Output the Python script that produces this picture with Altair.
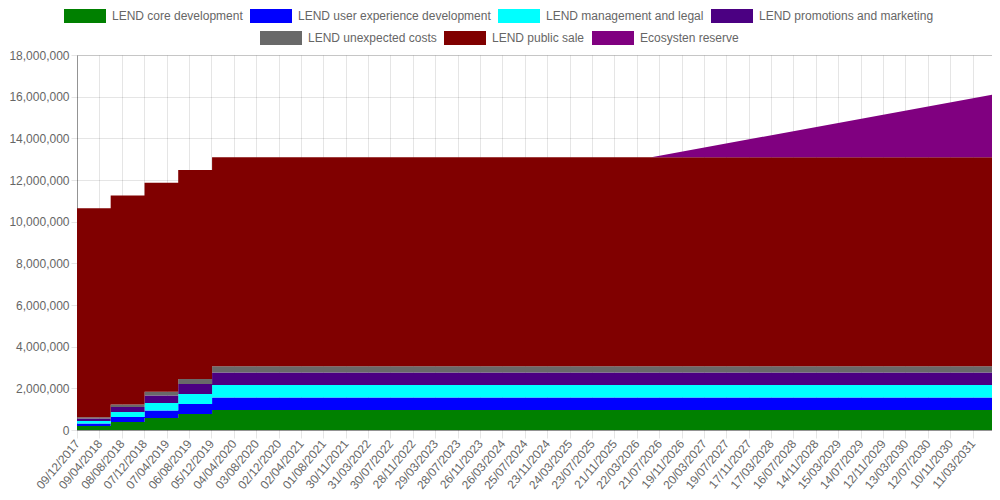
import altair as alt
import pandas as pd

# ---- data ----
dates = ["2017-12-09", "2018-06-09", "2018-12-09", "2019-06-09",
         "2019-12-09", "2026-06-09", "2031-06-24"]

series_names = [
    "LEND core development",
    "LEND user experience development",
    "LEND management and legal",
    "LEND promotions and marketing",
    "LEND unexpected costs",
    "LEND public sale",
    "Ecosysten reserve",
]
series_colors = ["#008000", "#0000ff", "#00ffff", "#4b0082",
                 "#696969", "#800000", "#800080"]

core = [192000, 384000, 576000, 768000, 960000, 960000, 960000]
ux = [120000, 240000, 360000, 480000, 600000, 600000, 600000]
mgmt = [120000, 240000, 360000, 480000, 600000, 600000, 600000]
promo = [120000, 240000, 360000, 480000, 600000, 600000, 600000]
unexpected = [60000, 120000, 180000, 240000, 300000, 300000, 300000]
public_sale = [10030000, 10030000, 10030000, 10030000, 10030000, 10030000, 10030000]
eco = [0, 0, 0, 0, 0, 0, 3000000]

tick_labels = ["09/12/2017", "09/04/2018", "08/08/2018", "07/12/2018", "07/04/2019",
               "06/08/2019", "05/12/2019", "04/04/2020", "03/08/2020", "02/12/2020",
               "02/04/2021", "01/08/2021", "30/11/2021", "31/03/2022", "30/07/2022",
               "28/11/2022", "29/03/2023", "28/07/2023", "26/11/2023", "26/03/2024",
               "25/07/2024", "23/11/2024", "24/03/2025", "23/07/2025", "21/11/2025",
               "22/03/2026", "21/07/2026", "19/11/2026", "20/03/2027", "19/07/2027",
               "17/11/2027", "17/03/2028", "16/07/2028", "14/11/2028", "15/03/2029",
               "14/07/2029", "12/11/2029", "13/03/2030", "12/07/2030", "10/11/2030",
               "11/03/2031"]

y_ticks = [0, 2000000, 4000000, 6000000, 8000000, 10000000,
           12000000, 14000000, 16000000, 18000000]


def ms(ts):
    return int(pd.Timestamp(ts).timestamp() * 1000)


date_ms = [ms(d) for d in dates]
tick_ms = [ms(pd.to_datetime(t, format="%d/%m/%Y")) for t in tick_labels]

values = [core, ux, mgmt, promo, unexpected, public_sale, eco]
rows = []
for i, t in enumerate(date_ms):
    cum = 0
    for s, vals in zip(series_names, values):
        rows.append({"date": t, "series": s, "bottom": cum, "top": cum + vals[i], "idx": i})
        cum += vals[i]
df = pd.DataFrame(rows)

FONT = "Liberation Sans"
GRID = "rgba(0,0,0,0.1)"
ZERO = "rgba(0,0,0,0.25)"
box = "M-1,-0.3333L1,-0.3333L1,0.3333L-1,0.3333Z"

x_enc = alt.X(
    "date:T",
    scale=alt.Scale(type="utc", domain=[date_ms[0], date_ms[-1]], nice=False),
    axis=alt.Axis(values=tick_ms, format="%d/%m/%Y", labelAngle=-50,
                  labelAlign="right", labelBaseline="middle", labelOverlap=False,
                  labelFont=FONT, labelFontSize=12, labelColor="#666",
                  tickSize=8, tickColor=GRID, gridColor=GRID, domainColor=ZERO,
                  labelPadding=3, title=None, labelFlush=False),
)
y_enc = alt.Y(
    "top:Q",
    scale=alt.Scale(domain=[0, 18000000], nice=False, zero=True),
    axis=alt.Axis(values=y_ticks, format=",d", labelFont=FONT, labelFontSize=12,
                  labelColor="#666", tickSize=6, tickColor=GRID, gridColor=GRID,
                  domainColor=ZERO, labelPadding=2, title=None),
)

legend_common = dict(
    orient="none", direction="horizontal", title=None, symbolType=box,
    symbolSize=1764, symbolStrokeWidth=0, labelFont=FONT, labelFontSize=12,
    labelColor="#666", labelOffset=6, columnPadding=7, labelLimit=0, padding=0,
    symbolOpacity=1,
)

first4 = series_names[:4]
last3 = series_names[4:]

layer_a = alt.Chart(df[df["series"].isin(first4)]).mark_area(
    interpolate="step-after", opacity=1
).encode(
    x=x_enc, y=y_enc, y2="bottom:Q",
    color=alt.Color("series:N",
                    scale=alt.Scale(domain=first4, range=series_colors[:4]),
                    legend=alt.Legend(legendX=-13, legendY=-60, **legend_common)),
)

legend_b = alt.Legend(legendX=183, legendY=-38, **legend_common)

layer_b = alt.Chart(df[df["series"].isin(last3[:2])]).mark_area(
    interpolate="step-after", opacity=1
).encode(
    x=x_enc, y=y_enc, y2="bottom:Q",
    fill=alt.Fill("series:N",
                  scale=alt.Scale(domain=last3, range=series_colors[4:]),
                  legend=legend_b),
)

layer_c = alt.Chart(df[(df["series"] == last3[2]) & (df["idx"] >= 5)]).mark_area(
    interpolate="linear", opacity=1
).encode(
    x=x_enc, y=y_enc, y2="bottom:Q",
    fill=alt.Fill("series:N",
                  scale=alt.Scale(domain=last3, range=series_colors[4:]),
                  legend=legend_b),
)

chart = alt.layer(layer_a, layer_b, layer_c).properties(
    width=915, height=375,
    autosize=alt.AutoSizeParams(type="none"),
    padding={"left": 69, "top": 47, "right": 0, "bottom": 62},
).configure_view(stroke=None).configure(background="white")

chart.save("out.html", embed_options={"renderer": "svg", "actions": False})
